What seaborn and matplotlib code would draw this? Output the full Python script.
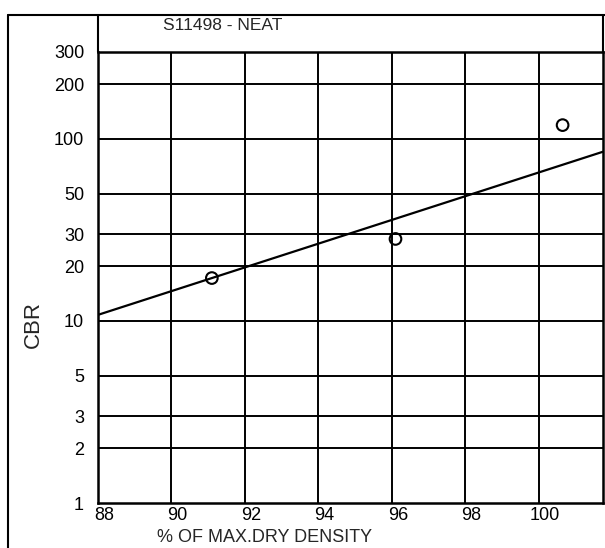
import numpy as np
import pandas as pd
import matplotlib.pyplot as plt
import matplotlib.transforms as mtransforms
import seaborn as sns
from matplotlib.lines import Line2D

# measured CBR points
density = [91.1, 96.1, 100.65]
cbr = [17.2, 28.2, 119]

# trend line ends
trend_x = [88, 101.75]
trend_y = [10.8, 85]

x_ticks = [88, 90, 92, 94, 96, 98, 100]
y_ticks = [1, 2, 3, 5, 10, 20, 30, 50, 100, 200, 300]
y_labels = ['1', '2', '3', '5', '10', '20', '30', '50', '100', '200', '300']

sns.set_style('white')
plt.rcParams['font.family'] = ['Liberation Sans', 'DejaVu Sans']

df = pd.DataFrame({'density': density, 'cbr': cbr})
tl = pd.DataFrame({'x': trend_x, 'y': trend_y})

W, H = 605, 548
fig = plt.figure(figsize=(W / 100, H / 100), dpi=100)
ax = fig.add_axes([98 / W, 1 - 503 / H, 505 / W, (503 - 52) / H])

ax.set_yscale('log')
ax.set_xlim(88, 101.75)
ax.set_ylim(1, 300)

for v in x_ticks[1:]:
    ax.axvline(v, color='black', lw=1.4, zorder=1)
for v in y_ticks[1:]:
    ax.axhline(v, color='black', lw=1.4, zorder=1)

sns.lineplot(data=tl, x='x', y='y', ax=ax, color='black', lw=1.6, zorder=2)
sns.scatterplot(data=df, x='density', y='cbr', ax=ax, marker='o', s=70,
                facecolor='none', edgecolor='black', linewidth=1.5, zorder=3)

ax.set_xticks(x_ticks)
ax.set_xticklabels([str(v) for v in x_ticks])
ax.set_yticks(y_ticks)
ax.set_yticklabels(y_labels)
ax.minorticks_off()
ax.tick_params(axis='both', length=0, labelsize=13, colors='black')
ax.tick_params(axis='x', pad=3)
ax.tick_params(axis='y', pad=10)
shift = mtransforms.ScaledTranslation(6 / 100, 0, fig.dpi_scale_trans)
for lab in ax.get_xticklabels():
    lab.set_transform(lab.get_transform() + shift)
ax.set_xlabel('')
ax.set_ylabel('')
for s in ax.spines.values():
    s.set_color('black')
    s.set_linewidth(1.8)

# outer frame and title box
def fline(x0, y0, x1, y1, lw=1.5):
    fig.add_artist(Line2D([x0 / W, x1 / W], [1 - y0 / H, 1 - y1 / H],
                          color='black', lw=lw, transform=fig.transFigure))

fline(8, 15, 8, H)
fline(8, 15, W, 15)
fline(98, 15, 98, 52)
fline(603, 15, 603, 52)

fig.text(163 / W, 1 - 25 / H, 'S11498 - NEAT', fontsize=12.5, va='center', ha='left')
fig.text(33 / W, 1 - 324 / H, 'CBR', fontsize=16, rotation=90, va='center', ha='center')
fig.text(265 / W, 1 - 538 / H, '% OF MAX.DRY DENSITY', fontsize=13, va='center', ha='center')

fig.savefig('out.png', dpi=100, facecolor='white')
